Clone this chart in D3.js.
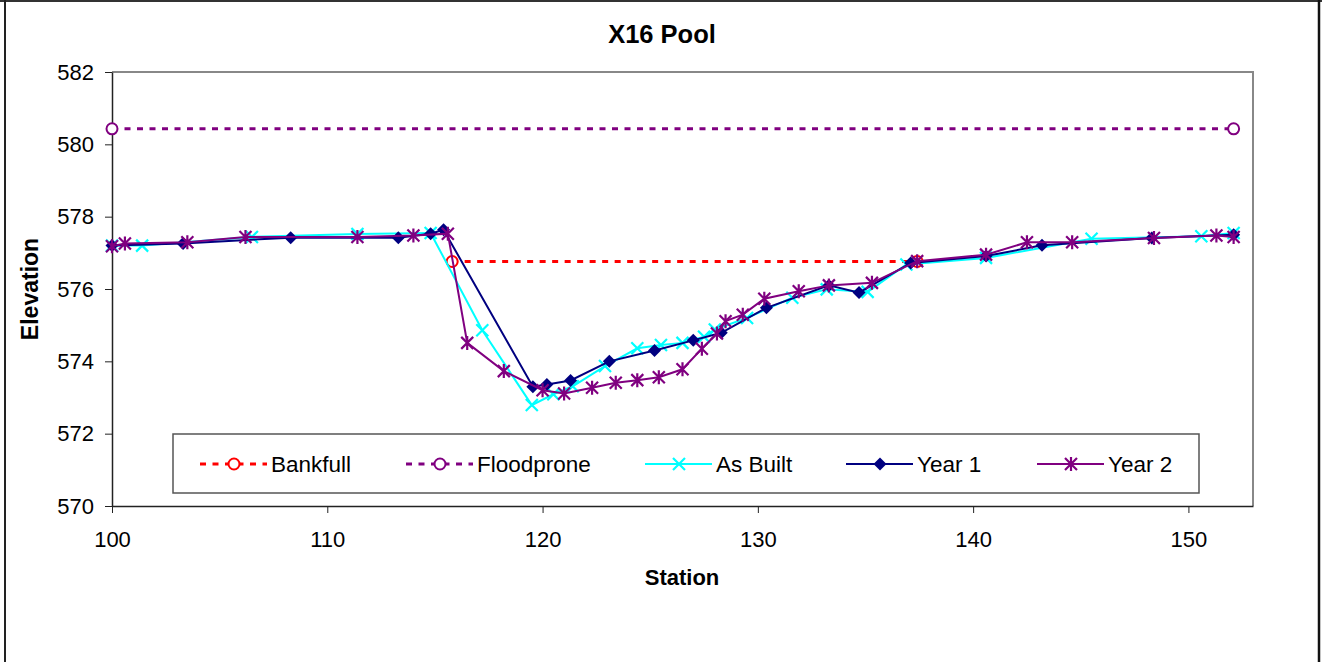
<!DOCTYPE html>
<meta charset="utf-8">
<script src="https://d3js.org/d3.v7.min.js"></script>
<style>
  body { margin: 0; background: #fff; }
  text { font-family: "Liberation Sans", Arial, sans-serif; fill: #000; }
</style>
<div id="chart"></div>
<script>

// data: [station, elevation]
var bankfull = [[115.8, 576.76], [137.4, 576.76]];
var floodprone = [[100.0, 580.43], [152.1, 580.43]];

var asBuilt = [
  [100.0, 577.2], [101.4, 577.2], [106.5, 577.44], [111.4, 577.52], [114.8, 577.55],
  [117.2, 574.86], [119.5, 572.79], [120.5, 573.09], [121.4, 573.31], [122.9, 573.87],
  [124.4, 574.36], [125.5, 574.45], [126.5, 574.51], [127.5, 574.68], [128.0, 574.88],
  [129.5, 575.2], [131.6, 575.76], [133.2, 575.99], [135.1, 575.92], [136.9, 576.68],
  [140.6, 576.86], [145.5, 577.39], [150.6, 577.46], [152.1, 577.55]
];

var year1 = [
  [100.0, 577.2], [103.3, 577.26], [108.3, 577.42], [113.3, 577.42], [114.8, 577.53],
  [115.4, 577.64], [119.55, 573.3], [120.2, 573.36], [121.3, 573.47], [123.1, 574.0],
  [125.2, 574.3], [127.0, 574.58], [128.3, 574.79], [130.4, 575.48], [133.3, 576.1],
  [134.7, 575.9], [137.1, 576.72], [140.6, 576.91], [143.2, 577.21], [148.3, 577.41],
  [152.1, 577.5]
];

var year2 = [
  [100.0, 577.18], [100.6, 577.26], [103.5, 577.29], [106.2, 577.44], [111.4, 577.44],
  [114.0, 577.48], [115.6, 577.53], [116.5, 574.51], [118.2, 573.73], [120.0, 573.2],
  [121.0, 573.11], [122.3, 573.27], [123.4, 573.41], [124.4, 573.48], [125.4, 573.56],
  [126.5, 573.78], [127.4, 574.35], [128.1, 574.77], [128.5, 575.11], [129.3, 575.29],
  [130.3, 575.73], [131.9, 575.94], [133.3, 576.1], [135.3, 576.17], [137.4, 576.77],
  [140.6, 576.95], [142.5, 577.29], [144.6, 577.29], [148.4, 577.41], [151.3, 577.48],
  [152.1, 577.44]
];

var xTicks = [100, 110, 120, 130, 140, 150];
var yTicks = [570, 572, 574, 576, 578, 580, 582];

var seriesNames = ["Bankfull", "Floodprone", "As Built", "Year 1", "Year 2"];

// series look
var series = [
  {name: seriesNames[0], data: bankfull,   color: "#ff0000", dash: "6,6.5", width: 3, marker: "circle"},
  {name: seriesNames[1], data: floodprone, color: "#800080", dash: "6,6.5", width: 3, marker: "circle"},
  {name: seriesNames[2], data: asBuilt,    color: "#00ffff", dash: null,    width: 2, marker: "x"},
  {name: seriesNames[3], data: year1,      color: "#000080", dash: null,    width: 2, marker: "diamond"},
  {name: seriesNames[4], data: year2,      color: "#800080", dash: null,    width: 2, marker: "star"}
];

var W = 1322, H = 662;
var plot = {left: 112, top: 72, right: 1253, bottom: 506};

var svg = d3.select("#chart").append("svg")
  .attr("width", W)
  .attr("height", H);

// outer chart border
svg.append("line").attr("x1", 0).attr("x2", W).attr("y1", 1).attr("y2", 1)
  .attr("stroke", "#333").attr("stroke-width", 2);
svg.append("line").attr("x1", 5).attr("x2", 5).attr("y1", 0).attr("y2", H)
  .attr("stroke", "#222").attr("stroke-width", 2);
svg.append("line").attr("x1", 1319).attr("x2", 1319).attr("y1", 0).attr("y2", H)
  .attr("stroke", "#111").attr("stroke-width", 2.5);

var x = d3.scaleLinear().domain([100, 153]).range([plot.left, plot.right]);
var y = d3.scaleLinear().domain([570, 582]).range([plot.bottom, plot.top]);

// plot area frame (grey top / right)
svg.append("path")
  .attr("d", "M" + plot.left + "," + plot.top + "H" + plot.right + "V" + plot.bottom)
  .attr("fill", "none")
  .attr("stroke", "#888")
  .attr("stroke-width", 2);

// axes
var xAxis = svg.append("g")
  .attr("transform", "translate(0," + plot.bottom + ")")
  .call(d3.axisBottom(x).tickValues(xTicks).tickSize(7).tickPadding(18).tickSizeOuter(0));
var yAxis = svg.append("g")
  .attr("transform", "translate(" + plot.left + ",0)")
  .call(d3.axisLeft(y).tickValues(yTicks).tickSize(7).tickPadding(11).tickSizeOuter(0));

[xAxis, yAxis].forEach(function(a) {
  a.select(".domain").attr("stroke", "#222").attr("stroke-width", 1.5);
  a.selectAll(".tick line").attr("stroke", "#222");
  a.selectAll(".tick text")
    .style("font-family", "'Liberation Sans', Arial, sans-serif")
    .style("font-size", "22px")
    .attr("fill", "#000");
});

// titles
svg.append("text")
  .attr("x", 662).attr("y", 43)
  .attr("text-anchor", "middle")
  .style("font-size", "25.5px").style("font-weight", "bold")
  .text("X16 Pool");

svg.append("text")
  .attr("x", 682).attr("y", 585)
  .attr("text-anchor", "middle")
  .style("font-size", "22px").style("font-weight", "bold")
  .text("Station");

svg.append("text")
  .attr("transform", "translate(38," + ((plot.top + plot.bottom) / 2) + ") rotate(-90)")
  .attr("text-anchor", "middle")
  .style("font-size", "23px").style("font-weight", "bold")
  .text("Elevation");

// marker shapes
function markerPath(type) {
  if (type === "x") return "M-6,-6L6,6M-6,6L6,-6";
  if (type === "star") return "M-6,-6L6,6M-6,6L6,-6M0,-7L0,7";
  if (type === "diamond") return "M0,-6.5L6.5,0L0,6.5L-6.5,0Z";
  return null;
}

function drawMarker(g, type, color) {
  if (type === "circle") {
    g.append("circle").attr("r", 5.5)
      .attr("fill", "#fff").attr("stroke", color).attr("stroke-width", 2);
  } else if (type === "diamond") {
    g.append("path").attr("d", markerPath(type)).attr("fill", color);
  } else {
    g.append("path").attr("d", markerPath(type))
      .attr("fill", "none").attr("stroke", color).attr("stroke-width", 2.2);
  }
}

var line = d3.line()
  .x(function(d) { return x(d[0]); })
  .y(function(d) { return y(d[1]); });

series.forEach(function(s) {
  var g = svg.append("g");
  g.append("path")
    .datum(s.data)
    .attr("fill", "none")
    .attr("stroke", s.color)
    .attr("stroke-width", s.width)
    .attr("stroke-dasharray", s.dash)
    .attr("d", line);
  g.selectAll("g.pt")
    .data(s.data)
    .enter()
    .append("g")
      .attr("class", "pt")
      .attr("transform", function(d) { return "translate(" + x(d[0]) + "," + y(d[1]) + ")"; })
      .each(function() { drawMarker(d3.select(this), s.marker, s.color); });
});

// legend
var legend = svg.append("g");
legend.append("rect")
  .attr("x", 173).attr("y", 434)
  .attr("width", 1026).attr("height", 59)
  .attr("fill", "#fff")
  .attr("stroke", "#555")
  .attr("stroke-width", 1.5);

var legendX = [200, 406, 645, 846, 1037];
series.forEach(function(s, i) {
  var lg = legend.append("g").attr("transform", "translate(" + legendX[i] + ",464)");
  lg.append("line")
    .attr("x1", 0).attr("x2", 67)
    .attr("stroke", s.color)
    .attr("stroke-width", s.width)
    .attr("stroke-dasharray", s.dash);
  var m = lg.append("g").attr("transform", "translate(34,0)");
  drawMarker(m, s.marker, s.color);
  lg.append("text")
    .attr("x", 71).attr("y", 8)
    .style("font-size", "22.5px")
    .text(s.name);
});

</script>
